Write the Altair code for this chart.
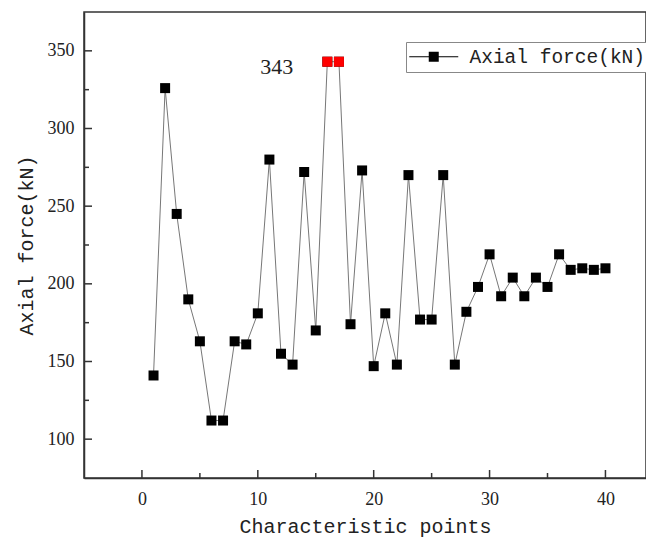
import altair as alt
import pandas as pd

points = list(range(1, 41))
axial_force = [141, 326, 245, 190, 163, 112, 112, 163, 161, 181,
               280, 155, 148, 272, 170, 343, 343, 174, 273, 147,
               181, 148, 270, 177, 177, 270, 148, 182, 198, 219,
               192, 204, 192, 204, 198, 219, 209, 210, 209, 210]
highlight_points = [16, 17]
series_name = "Axial force(kN)"
peak_label_point = [16]
peak_label_value = [343]
peak_label_text = ["343"]
x_major = [0, 10, 20, 30, 40]
x_minor = [5, 15, 25, 35]
y_major = [100, 150, 200, 250, 300, 350]
y_minor = [125, 175, 225, 275, 325]

W, H = 562, 466
AX = "#333333"
TXT = "#222222"
SERIF = "Liberation Serif, Times New Roman, serif"
MONO = "Liberation Mono, Courier New, monospace"

df = pd.DataFrame({"x": points, "y": axial_force, "series": series_name})
df["hl"] = df["x"].isin(highlight_points)
df_hl = df[df["hl"]]
df_lab = pd.DataFrame({"x": peak_label_point, "y": peak_label_value, "t": peak_label_text})

xs = alt.Scale(domain=[-5, 43.5], nice=False, zero=False)
ys = alt.Scale(domain=[75, 375], nice=False, zero=False)

x_axis = alt.Axis(values=x_major, tickSize=0, labelFont=SERIF, labelFontSize=18,
                  labelColor=TXT, labelPadding=12, domainColor=AX, domainWidth=1.5,
                  grid=False, title="Characteristic points", titleFont=MONO,
                  titleFontSize=20, titleFontWeight="normal", titleColor=TXT, titlePadding=8)
y_axis = alt.Axis(values=y_major, tickSize=0, labelFont=SERIF, labelFontSize=18,
                  labelColor=TXT, labelPadding=10, domainColor=AX, domainWidth=1.5,
                  grid=False, title="Axial force(kN)", titleFont=MONO,
                  titleFontSize=20, titleFontWeight="normal", titleColor=TXT, titlePadding=11)

line = alt.Chart(df).mark_line(color="#777777", strokeWidth=1).encode(
    x=alt.X("x:Q", scale=xs, axis=x_axis),
    y=alt.Y("y:Q", scale=ys, axis=y_axis),
)

legend_path = ("M-4.9,-0.1H-1V0.1H-4.9Z M-1,-1H1V1H-1Z M1,-0.1H4.9V0.1H1Z")

squares = alt.Chart(df).mark_square(size=100, opacity=1).encode(
    x=alt.X("x:Q", scale=xs),
    y=alt.Y("y:Q", scale=ys),
    color=alt.Color("series:N", scale=alt.Scale(domain=[series_name], range=["black"]),
                    legend=alt.Legend(title=None, orient="none", legendX=322, legendY=30,
                                      symbolType=legend_path, symbolSize=100, symbolOffset=13,
                                      labelFont=MONO, labelFontSize=19.5, labelLimit=400,
                                      labelColor=TXT, labelOffset=26, padding=5,
                                      strokeColor="#888888", fillColor="white",
                                      symbolStrokeWidth=0)),
)

red = alt.Chart(df_hl).mark_square(size=100, opacity=1, color="#ff0000").encode(
    x=alt.X("x:Q", scale=xs),
    y=alt.Y("y:Q", scale=ys),
)

label = alt.Chart(df_lab).mark_text(font=SERIF, fontSize=22, color=TXT,
                                    align="right", baseline="middle", dx=-34, dy=5).encode(
    x=alt.X("x:Q", scale=xs),
    y=alt.Y("y:Q", scale=ys),
    text="t:N",
)

xmaj = alt.Chart(pd.DataFrame({"x": x_major})).mark_rule(color=AX, strokeWidth=1.5).encode(
    x=alt.X("x:Q", scale=xs), y=alt.value(H), y2=alt.value(H - 8))
xmin = alt.Chart(pd.DataFrame({"x": x_minor})).mark_rule(color=AX, strokeWidth=1.5).encode(
    x=alt.X("x:Q", scale=xs), y=alt.value(H), y2=alt.value(H - 5))
ymaj = alt.Chart(pd.DataFrame({"y": y_major})).mark_rule(color=AX, strokeWidth=1.5).encode(
    y=alt.Y("y:Q", scale=ys), x=alt.value(0), x2=alt.value(8))
ymin = alt.Chart(pd.DataFrame({"y": y_minor})).mark_rule(color=AX, strokeWidth=1.5).encode(
    y=alt.Y("y:Q", scale=ys), x=alt.value(0), x2=alt.value(5))

chart = alt.layer(line, squares, red, label, xmaj, xmin, ymaj, ymin).properties(
    width=W, height=H,
    autosize=alt.AutoSizeParams(type="none"),
    padding={"left": 76, "top": 4, "right": 0, "bottom": 60},
).configure_view(stroke=AX, strokeWidth=1.5)

chart.save("out.html", embed_options={"renderer": "svg", "actions": False})
